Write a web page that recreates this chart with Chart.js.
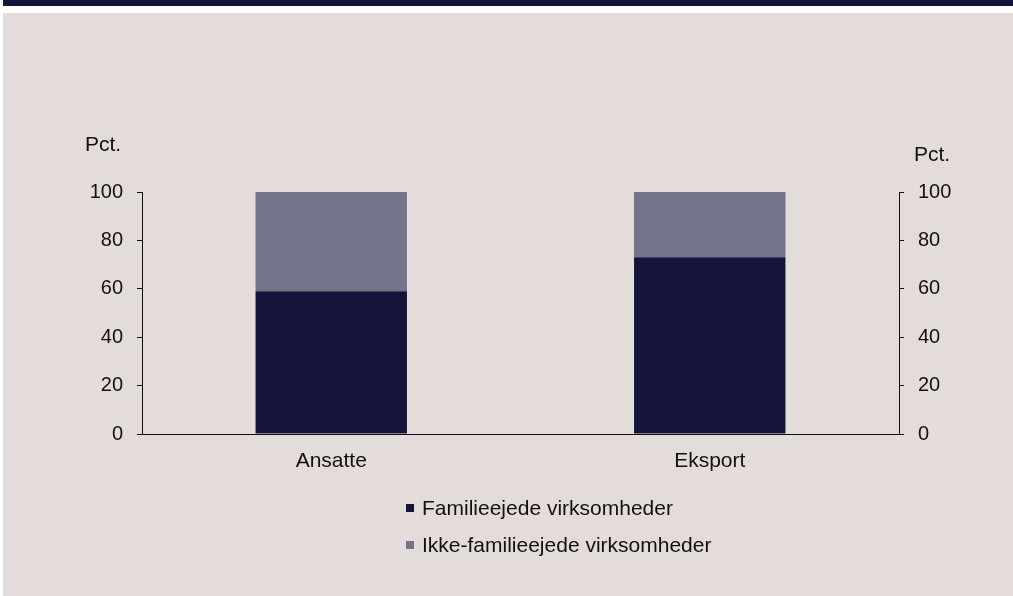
<!DOCTYPE html>
<html>
<head>
<meta charset="utf-8">
<script src="https://cdn.jsdelivr.net/npm/chart.js@4.4.1/dist/chart.umd.min.js"></script>
<style>
  body { margin: 0; background: #ffffff; width: 1013px; height: 596px; overflow: hidden; font-family: "Liberation Sans", Arial, sans-serif; }
  #topbar { position: absolute; left: 3px; top: 0; width: 1010px; height: 6px; background: #13133b; }
  #panel { position: absolute; left: 3px; top: 13px; width: 1010px; height: 583px; background: #e4dcda; }
  #wrap { position: absolute; left: 0; top: 0; width: 1013px; height: 596px; }
  #legend { position: absolute; left: 406px; top: 489px; font-size: 21px; color: #111; }
  #legend .item { height: 37px; display: flex; align-items: center; }
  #legend .box { width: 8px; height: 8px; margin-right: 8px; }
</style>
</head>
<body>
<div id="topbar"></div>
<div id="panel"></div>
<div id="wrap"><canvas id="chart" width="1013" height="596"></canvas></div>
<div id="legend"></div>
<script>
const categories = ['Ansatte', 'Eksport'];
const familieejede = [59, 73];
const ikkeFamilieejede = [41, 27];
const yTicks = [0, 20, 40, 60, 80, 100];
const seriesNames = ['Familieejede virksomheder', 'Ikke-familieejede virksomheder'];
const seriesColors = ['#15153b', '#737389'];

// "Pct." labels over both axes
const pctLabels = {
  id: 'pctLabels',
  afterDraw(chart) {
    const ctx = chart.ctx
    ctx.save()
    ctx.font = '21px "Liberation Sans", Arial, sans-serif'
    ctx.fillStyle = '#111111'
    ctx.textBaseline = 'middle'
    ctx.textAlign = 'left'
    ctx.fillText('Pct.', 85, 145)
    ctx.fillText('Pct.', 914, 155)
    ctx.restore()
  }
}

const axisStyle = (pos, width) => ({
  type: 'linear',
  position: pos,
  display: true,
  stacked: true,
  min: 0,
  max: 100,
  afterBuildTicks: (scale) => { scale.ticks = yTicks.map(v => ({ value: v })) },
  afterFit: (scale) => { scale.width = width },
  ticks: {
    color: '#111111',
    padding: 14,
    font: { size: 20, family: '"Liberation Sans", Arial, sans-serif' }
  },
  grid: { drawOnChartArea: false, drawTicks: true, tickLength: 5, color: '#111111', lineWidth: 1 },
  border: { display: true, color: '#111111', width: 1 }
})

const chart = new Chart(document.getElementById('chart'), {
  type: 'bar',
  data: {
    labels: categories,
    datasets: [
      { label: seriesNames[0], data: familieejede, backgroundColor: seriesColors[0], yAxisID: 'y' },
      { label: seriesNames[1], data: ikkeFamilieejede, backgroundColor: seriesColors[1], yAxisID: 'y' }
    ]
  },
  options: {
    responsive: false,
    animation: false,
    barPercentage: 0.4,
    categoryPercentage: 1.0,
    layout: { padding: { top: 192, bottom: 102, left: 0, right: 0 } },
    plugins: { legend: { display: false }, tooltip: { enabled: false } },
    scales: {
      x: {
        stacked: true,
        afterFit: (scale) => { scale.height = 60 },
        ticks: { color: '#111111', padding: 15, font: { size: 21, family: '"Liberation Sans", Arial, sans-serif' } },
        grid: { display: false, drawTicks: false },
        border: { display: true, color: '#111111', width: 1 }
      },
      y: axisStyle('left', 142),
      y2: axisStyle('right', 114)
    }
  },
  plugins: [pctLabels]
})

// legend built from the datasets, one item per row
const legend = document.getElementById('legend')
chart.data.datasets.forEach(ds => {
  const item = document.createElement('div')
  item.className = 'item'
  item.innerHTML = '<span class="box" style="background:' + ds.backgroundColor + '"></span>' + ds.label
  legend.appendChild(item)
})
</script>
</body>
</html>
